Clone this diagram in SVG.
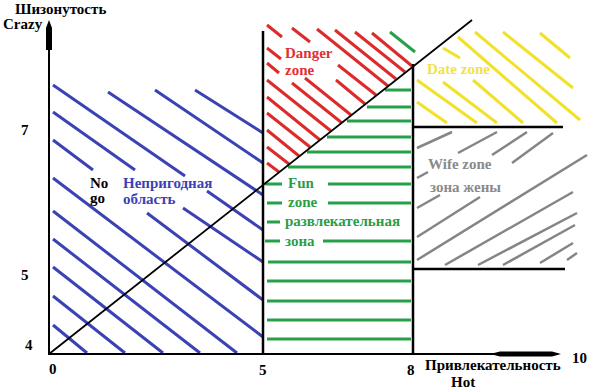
<svg xmlns="http://www.w3.org/2000/svg" width="590" height="392" viewBox="0 0 590 392">
<style>
text{font-family:"Liberation Serif","Times New Roman",serif;font-weight:bold;font-size:15px}
.ax{stroke:#000;stroke-width:2;fill:none}
.bd{stroke:#000;stroke-width:2.5;fill:none}
.bl{stroke:#3a42b4;stroke-width:3;fill:none}
.rd{stroke:#dd2a2a;stroke-width:3;fill:none}
.gr{stroke:#26a149;stroke-width:3;fill:none}
.ye{stroke:#f2e12a;stroke-width:3;fill:none}
.gy{stroke:#858585;stroke-width:2.5;fill:none}
</style>
<rect width="590" height="392" fill="#fff"/>

<g id="nogo-zone">
<path class="bl" d="M195,90L263,133M155,90L263,163M108,92L263,195M53,85L185,176M207,191L263,230M53,112L135,170M183,208L263,262M53,140L93,170M147,213L263,300M53,178L263,337M53,211L237,353M53,239L200,353M53,267L163,353M53,296L125,353M53,325L87,353"/>
<text x="90" y="188" fill="#000">No</text>
<text x="90" y="203" fill="#000">go</text>
<text x="123" y="188" fill="#3a42b4">Непригодная</text>
<text x="123" y="204" fill="#3a42b4">область</text>
</g>

<g id="danger-zone">
<path class="rd" d="M267,25L282,37M336,80L365,104M292,28L310,42M338,65L376,95M317,29L388,86M335,30L396,79M355,32L405,72M372,33L412,66M267,48L281,59M305,78L351,115M267,63L279,73M292,83L342,123M267,80L331,131M267,97L320,140M267,113L310,147M267,130L299,156M267,147L289,164M267,163L279,172"/>
<path class="gr" d="M390,32L415,52"/>
<text x="285" y="58" fill="#e03030">Danger</text>
<text x="285" y="75" fill="#e03030">zone</text>
</g>

<g id="fun-zone">
<path class="gr" d="M385,90H411M367,107H411M347,121H411M327,137H411M307,152H411M288,167H411M265,184H282M328,184H411M267,203H282M328,203H411M267,222H280M265,241H280M323,241H411M268,262H411M267,281H411M267,301H411M267,320H411M267,339H411"/>
<text x="288" y="188" fill="#2a9d48">Fun</text>
<text x="288" y="207" fill="#2a9d48">zone</text>
<text x="285" y="226" fill="#2a9d48">развлекательная</text>
<text x="285" y="246" fill="#2a9d48">зона</text>
</g>

<g id="date-zone">
<path class="ye" d="M540,33L570,58M503,32L573,88M475,32L580,120M458,37L557,123M443,48L460,58M473,80L523,123M443,82L497,123M417,80L477,123M417,102L447,123"/>
<text x="427" y="74" fill="#f0e24a">Date zone</text>
</g>

<g id="wife-zone">
<path class="gy" d="M417,148L452,132M417,178L428,172M458,153L497,132M492,155L527,132M512,163L553,133M417,208L440,195M417,237L480,197M417,260L587,155M445,265L573,192M478,265L577,213M503,265L575,225M540,263L573,243M567,260L577,253"/>
<text x="428" y="169" fill="#8a8a8a">Wife zone</text>
<text x="430" y="192" fill="#8a8a8a">зона жены</text>
</g>

<g id="connectors">
<path class="ax" d="M49,28V354H558"/>
<polygon points="49,20 52,28 52,50 46,50 46,28" fill="#000"/>
<polygon points="490,354 500,351.5 552,351.5 561,354 552,356.5 500,356.5" fill="#000"/>
<path class="bd" d="M263,31V354M413,64V354M413,127H563M413,269H565"/>
<path stroke="#000" stroke-width="1.8" fill="none" d="M49,354L472,20"/>
</g>

<g id="labels">
<text x="15" y="14">Шизонутость</text>
<text x="3" y="29">Crazy</text>
<text x="21" y="135">7</text>
<text x="21" y="280">5</text>
<text x="25" y="350">4</text>
<text x="49" y="374">0</text>
<text x="259" y="375">5</text>
<text x="407" y="375">8</text>
<text x="425" y="370">Привлекательность</text>
<text x="451" y="387">Hot</text>
<text x="572" y="363">10</text>
</g>
</svg>
